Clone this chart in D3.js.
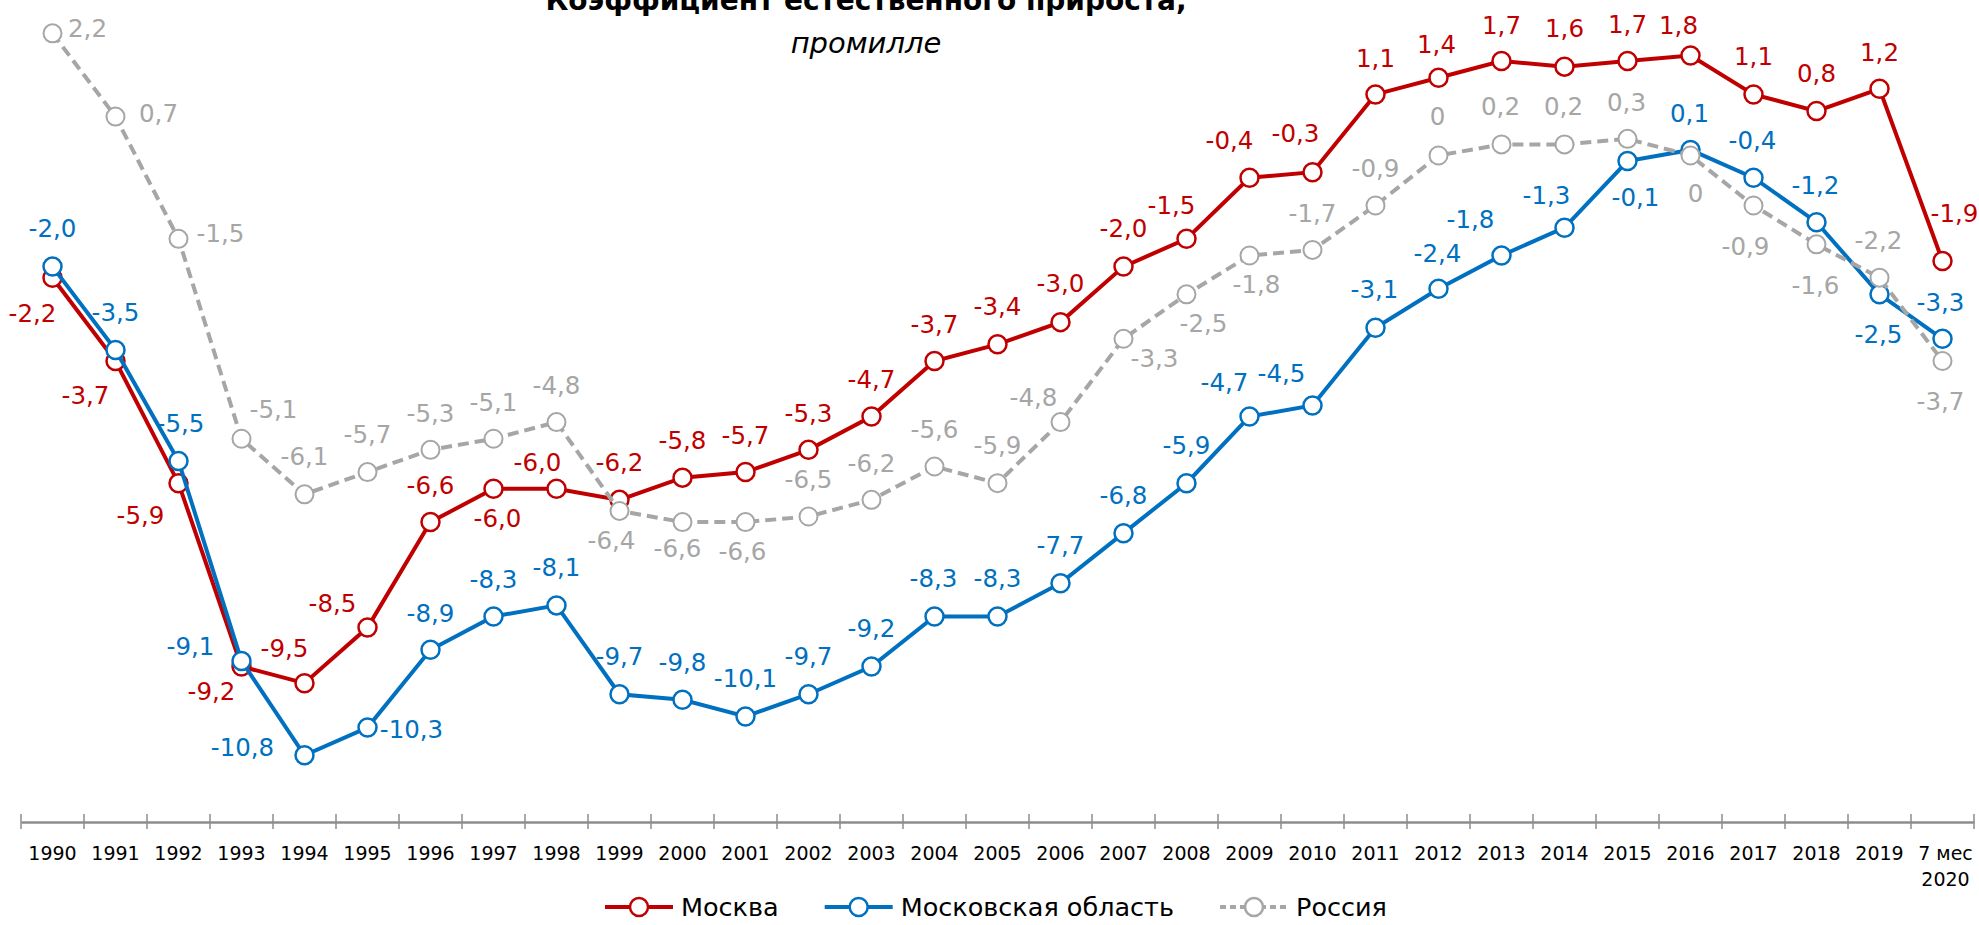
<!DOCTYPE html>
<html>
<head>
<meta charset="utf-8">
<script src="https://cdn.jsdelivr.net/npm/d3@7"></script>
<style>
  html, body { margin: 0; padding: 0; background: #fff; }
  svg text { font-family: "DejaVu Sans", sans-serif; }
</style>
</head>
<body>
<div id="chart"></div>
<script>
// categories and values
var categories = ["1990", "1991", "1992", "1993", "1994", "1995", "1996", "1997", "1998", "1999",
    "2000", "2001", "2002", "2003", "2004", "2005", "2006", "2007", "2008", "2009",
    "2010", "2011", "2012", "2013", "2014", "2015", "2016", "2017", "2018", "2019", "7 мес 2020"];

var moscow = [-2.2, -3.7, -5.9, -9.2, -9.5, -8.5, -6.6, -6.0, -6.0, -6.2,
    -5.8, -5.7, -5.3, -4.7, -3.7, -3.4, -3.0, -2.0, -1.5, -0.4,
    -0.3, 1.1, 1.4, 1.7, 1.6, 1.7, 1.8, 1.1, 0.8, 1.2, -1.9];

var moscowRegion = [-2.0, -3.5, -5.5, -9.1, -10.8, -10.3, -8.9, -8.3, -8.1, -9.7,
    -9.8, -10.1, -9.7, -9.2, -8.3, -8.3, -7.7, -6.8, -5.9, -4.7,
    -4.5, -3.1, -2.4, -1.8, -1.3, -0.1, 0.1, -0.4, -1.2, -2.5, -3.3];

var russia = [2.2, 0.7, -1.5, -5.1, -6.1, -5.7, -5.3, -5.1, -4.8, -6.4,
    -6.6, -6.6, -6.5, -6.2, -5.6, -5.9, -4.8, -3.3, -2.5, -1.8,
    -1.7, -0.9, 0, 0.2, 0.2, 0.3, 0, -0.9, -1.6, -2.2, -3.7];

var seriesNames = ["Москва", "Московская область", "Россия"];

// label placement (offset of label centre from its point, px)
var moscowLabelPos = [[-20,35],[-30,34],[-38,32],[-30,25],[-20,-35],[-35,-24],[0,-37],[4,29],[-19,-27],[0,-38],
    [0,-37],[0,-37],[0,-37],[0,-37],[0,-37],[0,-38],[0,-39],[0,-38],[-15,-34],[-20,-38],
    [-17,-39],[0,-36],[-2,-34],[0,-36],[0,-38],[0,-37],[-12,-30],[0,-38],[0,-38],[0,-37],[12,-48]];
var moscowRegionLabelPos = [[0,-38],[0,-38],[2,-38],[-51,-15],[-62,-8],[44,2],[0,-37],[0,-37],[0,-38],[0,-38],
    [0,-38],[0,-38],[0,-38],[0,-38],[-1,-38],[0,-38],[0,-38],[0,-38],[0,-38],[-25,-34],
    [-31,-32],[-1,-38],[-1,-36],[-31,-36],[-18,-33],[8,36],[-1,-37],[-1,-38],[-1,-37],[-1,40],[-2,-37]];
var russiaLabelPos = [[35,-5],[43,-3],[42,-6],[32,-30],[0,-38],[0,-38],[0,-37],[0,-37],[0,-37],[-8,29],
    [-5,26],[-3,29],[0,-37],[0,-37],[0,-37],[0,-38],[-27,-25],[31,19],[17,29],[7,29],
    [0,-37],[0,-37],[-1,-39],[-1,-38],[-1,-38],[-1,-37],[5,38],[-8,41],[-1,41],[-1,-38],[-2,40]];

var width = 1979, height = 925;
var axisY = 822;

var svg = d3.select("#chart")
    .append("svg")
    .attr("width", width)
    .attr("height", height);

var x = d3.scaleBand()
    .domain(categories)
    .range([21, 1974]);

var y = d3.scaleLinear()
    .domain([-12, 0])
    .range([axisY, 155.5]);

function fmt(v, keepZeroDecimal) {
    if (v === 0 && !keepZeroDecimal) return "0";
    return v.toFixed(1).replace(".", ",");
}

var series = [
    {name: seriesNames[0], values: moscow, pos: moscowLabelPos, color: "#C00000", dash: null, keep: true},
    {name: seriesNames[1], values: moscowRegion, pos: moscowRegionLabelPos, color: "#0070C0", dash: null, keep: true},
    {name: seriesNames[2], values: russia, pos: russiaLabelPos, color: "#A6A6A6", dash: "11,6", keep: false}
];

// title (top part sits above the picture, as in the original)
svg.append("text")
    .attr("x", 866).attr("y", 10)
    .attr("text-anchor", "middle")
    .attr("font-size", 28).attr("font-weight", "bold")
    .attr("fill", "#000")
    .text("Коэффициент естественного прироста,");
svg.append("text")
    .attr("x", 866).attr("y", 53)
    .attr("text-anchor", "middle")
    .attr("font-size", 29).attr("font-style", "italic")
    .attr("fill", "#000")
    .text("промилле");

// x axis
var xAxis = svg.append("g")
    .attr("transform", "translate(0," + axisY + ")")
    .call(d3.axisBottom(x).tickSize(0));
xAxis.select(".domain").attr("stroke", "#8c8c8c").attr("stroke-width", 2.5);
xAxis.selectAll(".tick text")
    .attr("y", 31)
    .attr("dy", "0.35em")
    .attr("font-size", 19)
    .attr("font-family", "DejaVu Sans")
    .attr("fill", "#000")
    .each(function(d) {
        var parts = d.split(" ");
        if (parts.length > 2) {
            var t = d3.select(this).text(null);
            t.append("tspan").attr("x", 3).attr("dy", "0.35em").text(parts[0] + " " + parts[1]);
            t.append("tspan").attr("x", 3).attr("dy", "1.4em").text(parts[2]);
        }
    });

// tick marks on category boundaries
svg.append("g").selectAll("line")
    .data(d3.range(categories.length + 1))
    .enter().append("line")
    .attr("x1", function(i) { return x(categories[0]) + i * x.step(); })
    .attr("x2", function(i) { return x(categories[0]) + i * x.step(); })
    .attr("y1", axisY - 8).attr("y2", axisY + 7)
    .attr("stroke", "#8c8c8c").attr("stroke-width", 1.5);

var line = d3.line()
    .x(function(d, i) { return x(categories[i]) + x.bandwidth() / 2; })
    .y(function(d) { return y(d); });

series.forEach(function(s) {
    var g = svg.append("g");
    g.append("path")
        .datum(s.values)
        .attr("d", line)
        .attr("fill", "none")
        .attr("stroke", s.color)
        .attr("stroke-width", 4)
        .attr("stroke-dasharray", s.dash);
    g.selectAll("circle")
        .data(s.values)
        .enter().append("circle")
        .attr("cx", function(d, i) { return x(categories[i]) + x.bandwidth() / 2; })
        .attr("cy", function(d) { return y(d); })
        .attr("r", 9)
        .attr("fill", "#fff")
        .attr("stroke", s.color)
        .attr("stroke-width", s.dash ? 2 : 2.5);
});

// data labels on top
series.forEach(function(s) {
    svg.append("g").selectAll("text")
        .data(s.values)
        .enter().append("text")
        .attr("x", function(d, i) { return x(categories[i]) + x.bandwidth() / 2 + s.pos[i][0]; })
        .attr("y", function(d, i) { return y(d) + s.pos[i][1]; })
        .attr("dy", "0.36em")
        .attr("text-anchor", "middle")
        .attr("font-size", 24.5)
        .attr("fill", s.color)
        .text(function(d) { return fmt(d, s.keep); });
});

// legend
var legend = svg.append("g").attr("transform", "translate(0,907)");
var lx = 605;
series.forEach(function(s) {
    var item = legend.append("g").attr("transform", "translate(" + lx + ",0)");
    item.append("line")
        .attr("x1", 0).attr("x2", 68).attr("y1", 0).attr("y2", 0)
        .attr("stroke", s.color).attr("stroke-width", 4)
        .attr("stroke-dasharray", s.dash ? "6,4" : null);
    item.append("circle")
        .attr("cx", 34).attr("cy", 0).attr("r", 9)
        .attr("fill", "#fff").attr("stroke", s.color).attr("stroke-width", 2.5);
    var t = item.append("text")
        .attr("x", 76).attr("y", 0).attr("dy", "0.36em")
        .attr("font-size", 25.5).attr("fill", "#000")
        .text(s.name);
    lx += 76 + t.node().getComputedTextLength() + 46;
});
</script>
</body>
</html>
